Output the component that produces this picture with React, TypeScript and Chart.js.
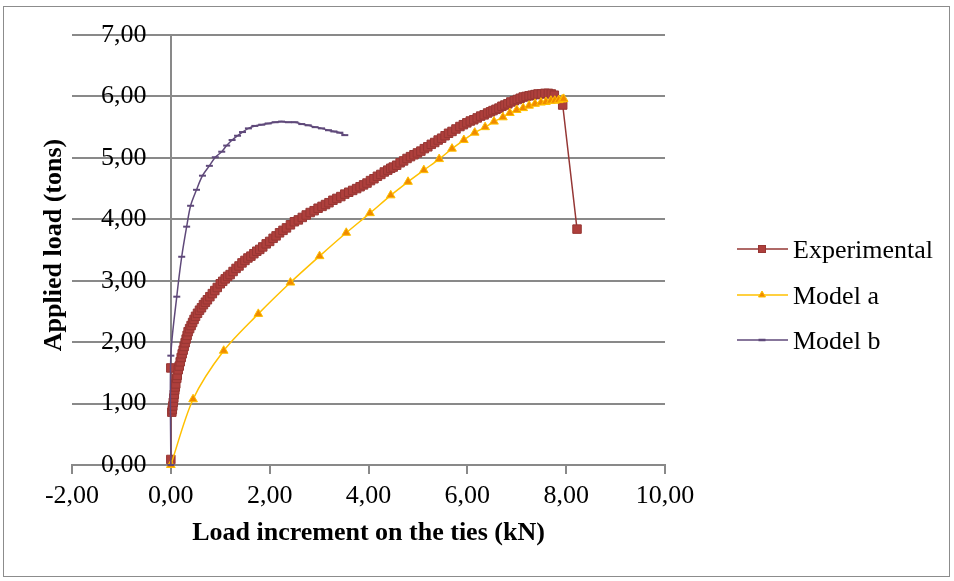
import React, { useEffect, useRef } from "react";
import { Chart, registerables } from "chart.js";

Chart.register(...registerables);

// Experimental load path (kN, tons)
const experimentalX = [
  0, 0, 0.02,
  0.03, 0.04, 0.05, 0.06, 0.07, 0.08, 0.09, 0.1, 0.12, 0.13, 0.15, 0.17, 0.19, 0.21, 0.23, 0.25, 0.27, 0.29, 0.31, 0.33, 0.35,
  0.38, 0.41, 0.44, 0.47, 0.5, 0.54, 0.58, 0.62, 0.66, 0.7, 0.74,
  0.79, 0.84, 0.89, 0.94, 1.0, 1.05, 1.1, 1.15, 1.2,
  1.26, 1.32, 1.38, 1.44, 1.5, 1.56, 1.62, 1.68, 1.74, 1.8, 1.86,
  1.93, 2.0, 2.07, 2.13, 2.2, 2.27, 2.34, 2.42, 2.5,
  2.58, 2.66, 2.74, 2.82, 2.9, 2.98, 3.06, 3.13, 3.2,
  3.28, 3.36, 3.44, 3.52, 3.6, 3.68, 3.76, 3.83, 3.9,
  3.97, 4.04, 4.11, 4.18, 4.25, 4.32, 4.39, 4.45, 4.5,
  4.57, 4.64, 4.71, 4.78, 4.85, 4.92, 4.99, 5.06, 5.13, 5.2,
  5.27, 5.34, 5.41, 5.48, 5.55, 5.62, 5.69, 5.77, 5.85,
  5.92, 5.99, 6.06, 6.13, 6.2, 6.27, 6.34, 6.41, 6.47, 6.52,
  6.58, 6.64, 6.7, 6.76, 6.82, 6.88, 6.95, 7.01, 7.07,
  7.13, 7.19, 7.25, 7.31, 7.37, 7.43, 7.5, 7.57, 7.64, 7.7, 7.76, 7.93, 8.22,
];
const experimentalY = [
  0.09, 1.58, 0.86,
  0.9, 0.96, 1.02, 1.09, 1.15, 1.22, 1.27, 1.32, 1.41, 1.46, 1.55, 1.61, 1.68, 1.75, 1.81, 1.87, 1.93, 1.99, 2.05, 2.11, 2.17,
  2.22, 2.27, 2.32, 2.37, 2.42, 2.47, 2.52, 2.56, 2.61, 2.65, 2.69,
  2.74, 2.79, 2.84, 2.89, 2.95, 2.99, 3.03, 3.07, 3.1,
  3.15, 3.2, 3.24, 3.29, 3.33, 3.37, 3.4, 3.44, 3.48, 3.51, 3.55,
  3.6, 3.64, 3.69, 3.73, 3.78, 3.82, 3.86, 3.91, 3.96,
  3.99, 4.03, 4.07, 4.11, 4.14, 4.18, 4.21, 4.24, 4.27,
  4.31, 4.34, 4.37, 4.41, 4.44, 4.47, 4.5, 4.53, 4.56,
  4.59, 4.63, 4.66, 4.7, 4.73, 4.77, 4.8, 4.83, 4.85,
  4.88, 4.92, 4.95, 4.99, 5.02, 5.05, 5.08, 5.11, 5.15, 5.18,
  5.22, 5.25, 5.29, 5.32, 5.36, 5.4, 5.43, 5.47, 5.51,
  5.54, 5.57, 5.6, 5.62, 5.65, 5.68, 5.7, 5.73, 5.75, 5.77,
  5.79, 5.81, 5.84, 5.86, 5.88, 5.91, 5.93, 5.95, 5.97,
  5.99, 6.0, 6.01, 6.02, 6.03, 6.04, 6.04, 6.05, 6.05, 6.04, 6.02, 5.86, 3.84,
];

// Numerical model a
const modelAX = [
  0, 0.45, 1.07, 1.77, 2.42, 3.01, 3.55, 4.03, 4.45, 4.8, 5.12, 5.43, 5.69, 5.93, 6.15,
  6.36, 6.54, 6.72, 6.86, 7.0, 7.13, 7.25, 7.37, 7.49, 7.59, 7.69, 7.77, 7.85, 7.92, 7.95,
];
const modelAY = [
  0, 1.07, 1.86, 2.46, 2.97, 3.4, 3.78, 4.1, 4.39, 4.61, 4.8, 4.98, 5.15, 5.29, 5.41,
  5.5, 5.59, 5.66, 5.73, 5.78, 5.81, 5.85, 5.88, 5.9, 5.91, 5.93, 5.93, 5.94, 5.95, 5.96,
];

// Numerical model b
const modelBX = [
  0, 0, 0.12, 0.22, 0.32, 0.4, 0.52, 0.64, 0.78, 0.9, 1.03, 1.13, 1.24, 1.35, 1.45, 1.57,
  1.7, 1.84, 1.97, 2.11, 2.24, 2.38, 2.51, 2.65, 2.78, 2.92, 3.05, 3.19, 3.3, 3.42, 3.52,
];
const modelBY = [
  0, 1.78, 2.74, 3.39, 3.88, 4.22, 4.48, 4.71, 4.87, 5.01, 5.1, 5.2, 5.29, 5.36, 5.42, 5.48,
  5.52, 5.54, 5.56, 5.58, 5.59, 5.58, 5.58, 5.55, 5.53, 5.5, 5.48, 5.45, 5.43, 5.41, 5.37,
];

const seriesNames = ["Experimental", "Model a", "Model b"];
const xAxisTitle = "Load increment on the ties (kN)";
const yAxisTitle = "Applied load (tons)";

const FONT = "'Liberation Serif', 'Times New Roman', serif";
const GRID = "#898989";

const EXP_LINE = "#953735";
const EXP_FILL = "#AE3F3C";
const EXP_EDGE = "#973633";
const A_LINE = "#FFC000";
const A_FILL = "#F08A00";
const B_LINE = "#5F497A";

const toPairs = (xs: number[], ys: number[]) => xs.map((x, i) => ({ x, y: ys[i] }));
const commaFixed = (v: number | string) => Number(v).toFixed(2).replace(".", ",");

const frameAndLegend = {
  id: "frameAndLegend",
  beforeDraw(chart: any) {
    const { ctx, width, height } = chart;
    ctx.save();
    ctx.fillStyle = "#ffffff";
    ctx.fillRect(0, 0, width, height);
    ctx.strokeStyle = "#8c8c8c";
    ctx.lineWidth = 1;
    ctx.strokeRect(3.5, 6.5, 946, 570);
    ctx.restore();
  },
  afterDraw(chart: any) {
    const { ctx } = chart;
    ctx.save();
    // vertical axis title
    ctx.translate(54, 245);
    ctx.rotate(-Math.PI / 2);
    ctx.font = `bold 26px ${FONT}`;
    ctx.fillStyle = "#000";
    ctx.textAlign = "center";
    ctx.textBaseline = "middle";
    ctx.fillText(yAxisTitle, 0, 0);
    ctx.restore();

    // legend: line sample with its marker, then the name
    const rows = [249, 295, 340];
    const lineColors = [EXP_LINE, A_LINE, B_LINE];
    ctx.save();
    rows.forEach((y, i) => {
      ctx.strokeStyle = lineColors[i];
      ctx.lineWidth = 1.5;
      ctx.beginPath();
      ctx.moveTo(737, y);
      ctx.lineTo(788, y);
      ctx.stroke();
      const cx = 762;
      if (i === 0) {
        ctx.fillStyle = EXP_FILL;
        ctx.strokeStyle = EXP_EDGE;
        ctx.lineWidth = 1;
        ctx.fillRect(cx - 3.5, y - 3.5, 7, 7);
        ctx.strokeRect(cx - 3.5, y - 3.5, 7, 7);
      } else if (i === 1) {
        ctx.fillStyle = A_FILL;
        ctx.strokeStyle = A_LINE;
        ctx.lineWidth = 1;
        ctx.beginPath();
        ctx.moveTo(cx, y - 4);
        ctx.lineTo(cx + 3.5, y + 2);
        ctx.lineTo(cx - 3.5, y + 2);
        ctx.closePath();
        ctx.fill();
        ctx.stroke();
      } else {
        ctx.strokeStyle = B_LINE;
        ctx.lineWidth = 2.5;
        ctx.beginPath();
        ctx.moveTo(cx - 3.5, y);
        ctx.lineTo(cx + 3.5, y);
        ctx.stroke();
      }
      ctx.fillStyle = "#000";
      ctx.font = `26px ${FONT}`;
      ctx.textAlign = "left";
      ctx.textBaseline = "alphabetic";
      ctx.fillText(seriesNames[i], 793, y + 8.5);
    });
    ctx.restore();
  },
};

export default function App() {
  const canvasRef = useRef<HTMLCanvasElement | null>(null);

  useEffect(() => {
    const canvas = canvasRef.current;
    if (!canvas) return;
    const chart = new Chart(canvas, {
      type: "scatter",
      data: {
        datasets: [
          {
            label: seriesNames[0],
            data: toPairs(experimentalX, experimentalY),
            showLine: true,
            borderColor: EXP_LINE,
            borderWidth: 1.5,
            backgroundColor: EXP_FILL,
            pointStyle: "rect",
            pointRadius: 6,
            pointBorderWidth: 1,
            pointBorderColor: EXP_EDGE,
            pointBackgroundColor: EXP_FILL,
            tension: 0,
            order: 3,
            clip: false,
            yAxisID: "y",
          },
          {
            label: seriesNames[1],
            data: toPairs(modelAX, modelAY),
            showLine: true,
            borderColor: A_LINE,
            borderWidth: 1.5,
            backgroundColor: A_FILL,
            pointStyle: "triangle",
            pointRadius: 5,
            pointBorderWidth: 1,
            pointBorderColor: A_LINE,
            pointBackgroundColor: A_FILL,
            tension: 0.3,
            order: 2,
            clip: false,
            yAxisID: "y",
          },
          {
            label: seriesNames[2],
            data: toPairs(modelBX, modelBY),
            showLine: true,
            borderColor: B_LINE,
            borderWidth: 1.5,
            backgroundColor: B_LINE,
            pointStyle: "line",
            pointRadius: 3.5,
            pointBorderWidth: 2,
            pointBorderColor: B_LINE,
            tension: 0.3,
            order: 1,
            clip: false,
            yAxisID: "y",
          },
        ],
      },
      options: {
        animation: false,
        responsive: false,
        devicePixelRatio: 1,
        layout: { padding: { left: 72, top: 35, right: 289, bottom: 0 } },
        plugins: {
          legend: { display: false },
          tooltip: { enabled: false },
        },
        scales: {
          x: {
            type: "linear",
            position: "bottom",
            min: -2,
            max: 10,
            ticks: {
              stepSize: 2,
              padding: 7,
              color: "#000",
              font: { family: FONT, size: 26 },
              callback: (v: any) => commaFixed(v),
            },
            grid: {
              drawOnChartArea: false,
              drawTicks: true,
              tickLength: 9,
              color: GRID,
              lineWidth: 2,
            },
            border: { display: true, color: GRID, width: 2 },
            title: {
              display: true,
              text: xAxisTitle,
              color: "#000",
              font: { family: FONT, size: 26, weight: "bold" },
              padding: { top: 0, bottom: 32 },
            },
            afterFit: (scale: any) => {
              scale.height = 116;
            },
          },
          // value axis crossing the horizontal axis at zero: line and gridlines
          y: {
            type: "linear",
            position: { x: 0 } as any,
            min: 0,
            max: 7,
            ticks: { stepSize: 1, display: false, padding: 0 },
            grid: {
              drawOnChartArea: true,
              drawTicks: false,
              color: GRID,
              lineWidth: 2,
            },
            border: { display: true, color: GRID, width: 2 },
          },
          // tick labels of the value axis, set just left of the zero line
          yLabels: {
            type: "linear",
            position: { x: -0.49 } as any,
            min: 0,
            max: 7,
            ticks: {
              stepSize: 1,
              padding: 0,
              color: "#000",
              font: { family: FONT, size: 26 },
              callback: (v: any) => commaFixed(v),
            },
            grid: { display: false, drawTicks: false },
            border: { display: false },
          },
        },
      },
      plugins: [frameAndLegend],
    });
    return () => chart.destroy();
  }, []);

  return (
    <div style={{ position: "fixed", left: 0, top: 0, width: 954, height: 581, background: "#fff" }}>
      <canvas ref={canvasRef} width={954} height={581} style={{ width: 954, height: 581, display: "block" }} />
    </div>
  );
}
